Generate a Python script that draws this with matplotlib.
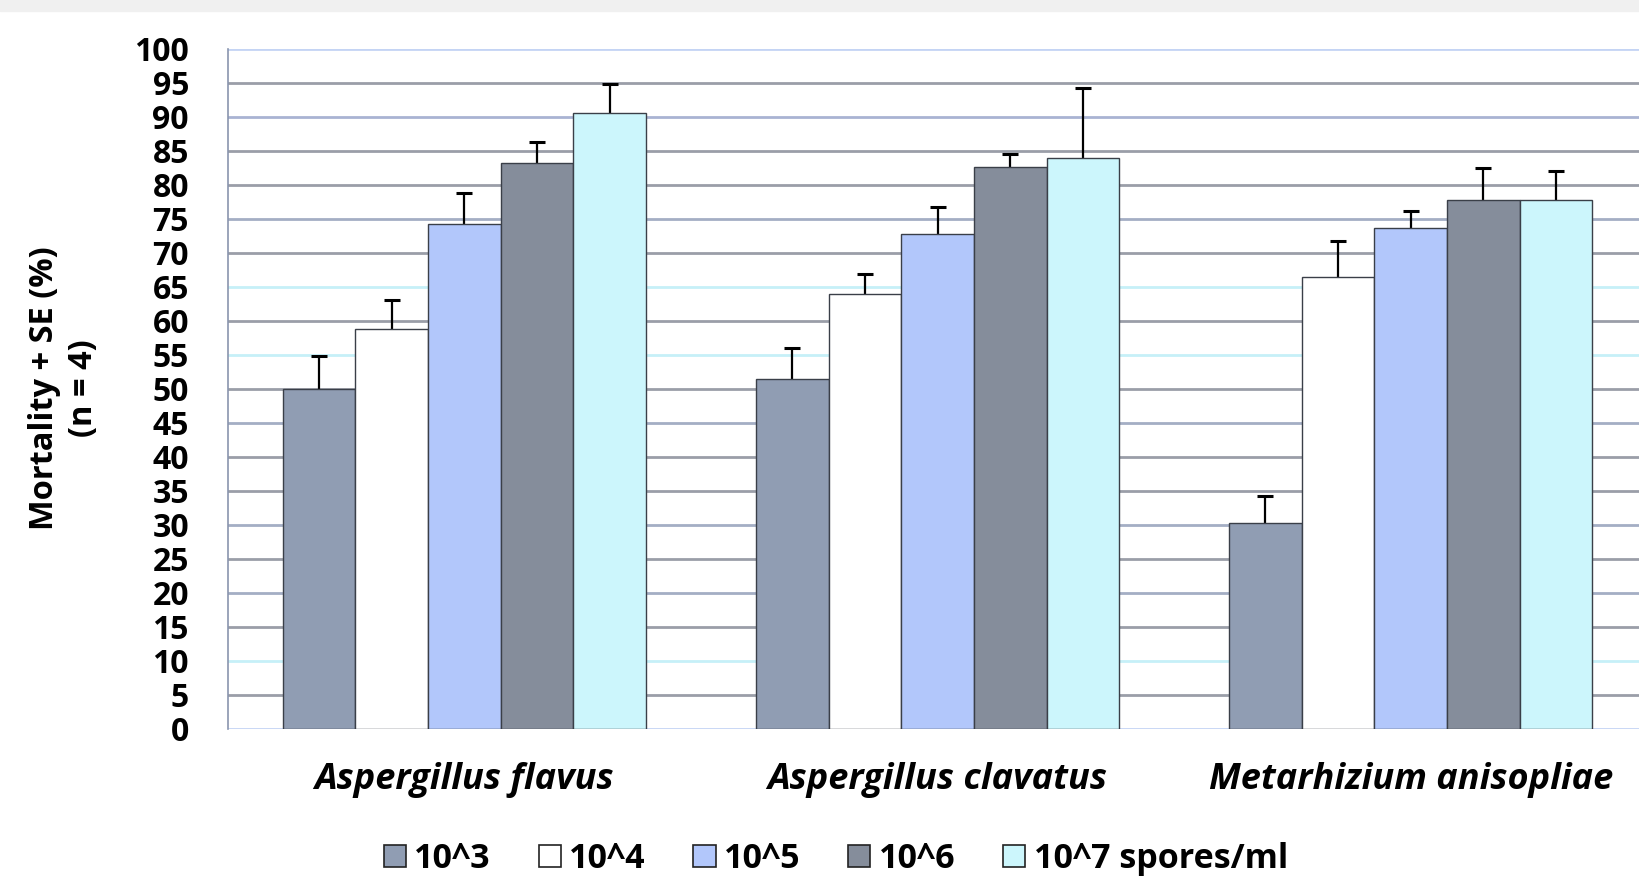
import numpy as np
import matplotlib.pyplot as plt
from matplotlib.patches import Rectangle

# datos
especies = ['Aspergillus flavus', 'Aspergillus clavatus', 'Metarhizium anisopliae']
dosis = ['10^3', '10^4', '10^5', '10^6', '10^7 spores/ml']

mortalidad = [
    [50.0, 51.4, 30.3],   # 10^3
    [58.8, 64.0, 66.5],   # 10^4
    [74.2, 72.8, 73.7],   # 10^5
    [83.2, 82.6, 77.8],   # 10^6
    [90.6, 84.0, 77.8],   # 10^7
]
error = [
    [4.9, 4.6, 4.0],
    [4.3, 2.9, 5.2],
    [4.6, 4.0, 2.5],
    [3.1, 2.0, 4.7],
    [4.2, 10.3, 4.2],
]

colores = ['#909db3', '#ffffff', '#b2c7fb', '#858d9b', '#ccf6fc']

fig = plt.figure(figsize=(16.39, 8.82), dpi=100)
fig.patches.append(Rectangle((0, 1 - 11/882), 1, 11/882, transform=fig.transFigure,
                             color='#f0f0f0', zorder=0))

ax = fig.add_axes([0.139, 0.1735, 0.866, 0.771])

x = np.arange(len(especies))
ancho = 0.1536
for i in range(len(dosis)):
    pos = x + (i - 2) * ancho
    ax.bar(pos, mortalidad[i], width=ancho, color=colores[i], edgecolor='#3a3f48',
           linewidth=1.0, label=dosis[i], zorder=3)
    # la mitad de abajo queda tapada por la barra
    ax.errorbar(pos, mortalidad[i], yerr=error[i], fmt='none',
                ecolor='black', elinewidth=1.6, capsize=6, capthick=2.2, zorder=2)

# lineas de la cuadricula
ticks = np.arange(0, 101, 5)
color_lineas = {100: '#c4d4f4', 90: '#a9b3d3', 75: '#a4aec4', 65: '#c6f0f8', 55: '#c6f0f8',
                45: '#a4aec4', 30: '#a4aec4', 20: '#a4aec4', 10: '#c6f0f8', 0: '#c4d4f4'}
for t in ticks:
    ax.axhline(t, color=color_lineas.get(t, '#9a9ea8'), linewidth=2.0, zorder=1)

ax.set_xlim(-0.5, 2.5)
ax.set_ylim(0, 100)
ax.set_yticks(ticks)
ax.set_yticklabels([str(t) for t in ticks], fontsize=23, fontweight='bold',
                   family='Open Sans')
ax.set_xticks(x)
ax.set_xticklabels(especies, fontsize=26, fontstyle='italic', fontweight='bold',
                   family='Open Sans')
ax.tick_params(axis='y', length=0, pad=28)
ax.tick_params(axis='x', length=0, pad=24)
for lado in ['top', 'right', 'bottom']:
    ax.spines[lado].set_visible(False)
ax.spines['left'].set_color('#8a95ae')
ax.spines['left'].set_linewidth(1.2)

fig.text(0.039, 0.56, 'Mortality + SE (%)\n(n = 4)', rotation=90, ha='center', va='center',
         fontsize=23.5, fontweight='bold', family='Open Sans', linespacing=1.25,
         multialignment='center')

leg = fig.legend(loc='center', bbox_to_anchor=(0.51, 0.026), ncol=5, frameon=False,
                 prop={'family': 'Open Sans', 'size': 24.5, 'weight': 'bold'},
                 handlelength=0.65, handleheight=0.65, handletextpad=0.25,
                 columnspacing=1.4)
for h in leg.legend_handles:
    h.set_edgecolor('#222222')
    h.set_linewidth(1.2)

plt.savefig('out.png', dpi=100)
